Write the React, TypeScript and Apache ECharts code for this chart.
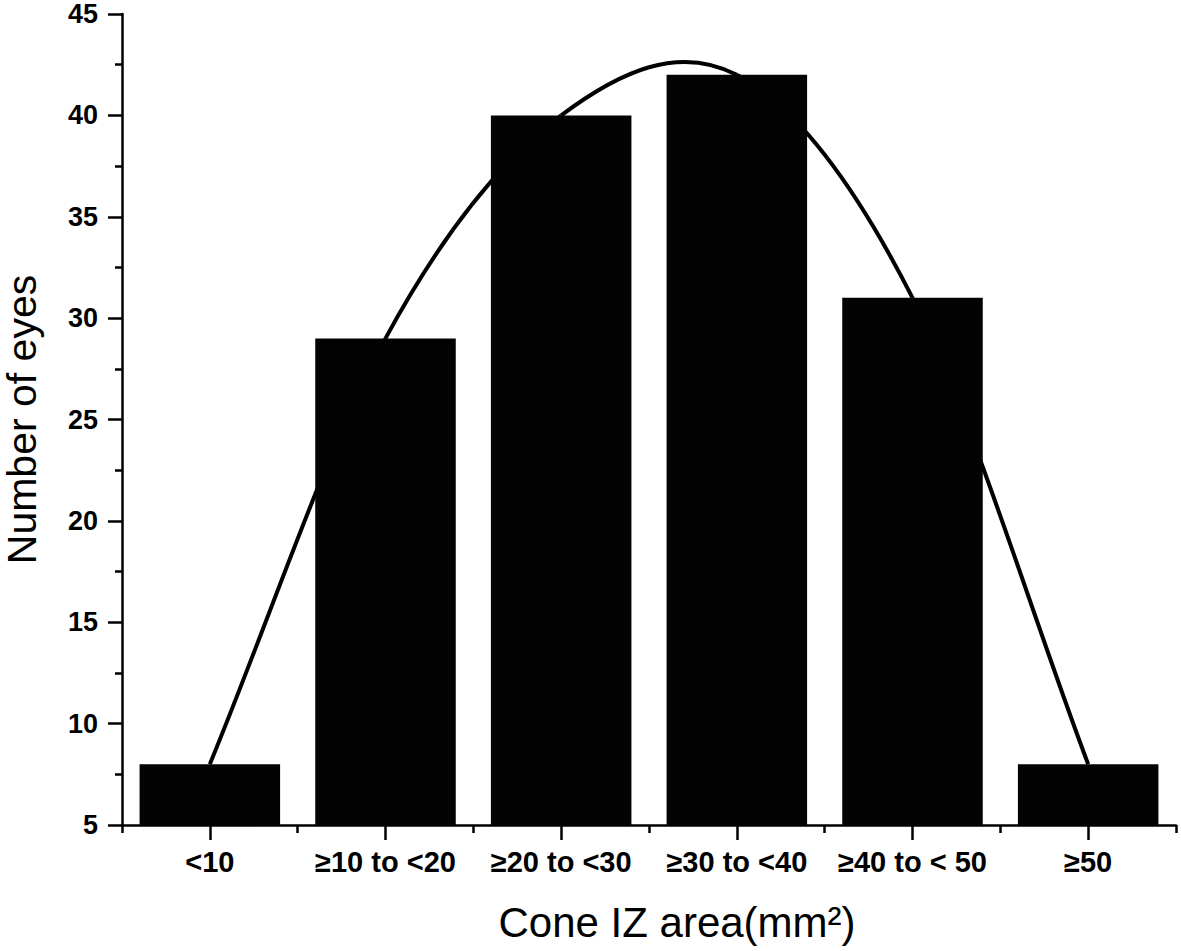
import React, { useEffect, useRef } from "react";
import * as echarts from "echarts";

const categories = ["<10", "≥10 to <20", "≥20 to <30", "≥30 to <40", "≥40 to < 50", "≥50"];
const eyeCounts = [8, 29, 40, 42, 31, 8];
const yTicks = { min: 5, max: 45, interval: 5 };
const yTitle = "Number of eyes";
const xTitle = "Cone IZ area(mm²)";

export default function App() {
  const ref = useRef<HTMLDivElement>(null);
  useEffect(() => {
    document.body.style.margin = "0";
    const chart = echarts.init(ref.current!, null, { renderer: "svg" });
    const font = "'Liberation Sans', Arial, sans-serif";
    const n = eyeCounts.length;
    chart.setOption({
      animation: false,
      backgroundColor: "#ffffff",
      grid: { left: 122, right: 5, top: 14, bottom: 126, containLabel: false, outerBoundsMode: "none" },
      xAxis: [
        {
          type: "category",
          data: categories,
          position: "bottom",
          axisLine: { show: true, lineStyle: { color: "#000", width: 2.5 } },
          axisTick: { show: true, alignWithLabel: true, length: 15, lineStyle: { color: "#000", width: 2.5 } },
          axisLabel: {
            color: "#000",
            fontFamily: font,
            fontWeight: "bold",
            fontSize: 29,
            margin: 22,
            interval: 0,
          },
          splitLine: { show: false },
          name: xTitle,
          nameLocation: "middle",
          nameGap: 76,
          nameTextStyle: {
            color: "#000",
            fontFamily: font,
            fontSize: 42,
            padding: [0, 0, 0, 56],
          },
        },
        {
          type: "category",
          data: categories,
          position: "bottom",
          axisLine: { show: false },
          axisTick: { show: true, interval: 0, length: 8, lineStyle: { color: "#000", width: 2.5 } },
          axisLabel: { show: false },
          splitLine: { show: false },
        },
      ],
      yAxis: {
        type: "value",
        min: yTicks.min,
        max: yTicks.max,
        interval: yTicks.interval,
        axisLine: { show: true, lineStyle: { color: "#000", width: 2.5 } },
        axisTick: { show: true, length: 14, lineStyle: { color: "#000", width: 2.5 } },
        minorTick: { show: true, splitNumber: 2, length: 7, lineStyle: { color: "#000", width: 2.5 } },
        axisLabel: {
          color: "#000",
          fontFamily: font,
          fontWeight: "bold",
          fontSize: 27,
          margin: 24,
        },
        splitLine: { show: false },
        name: yTitle,
        nameLocation: "middle",
        nameGap: 80,
        nameTextStyle: {
          color: "#000",
          fontFamily: font,
          fontSize: 41,
        },
      },
      series: [
        {
          type: "custom",
          z: 1,
          silent: true,
          data: eyeCounts.map((v, i) => [i, v]),
          renderItem: (params: any, api: any) => {
            const i = params.dataIndex;
            if (i >= n - 1) return null;
            const P = (k: number) => {
              const kk = Math.max(0, Math.min(n - 1, k));
              return api.coord([kk, eyeCounts[kk]]);
            };
            const p0 = P(i);
            const p1 = P(i + 1);
            const pm = i === 0 ? null : P(i - 1);
            const pp = i + 2 > n - 1 ? null : P(i + 2);
            const c1 = pm
              ? [p0[0] + (p1[0] - pm[0]) / 6, p0[1] + (p1[1] - pm[1]) / 6]
              : [p0[0] + (p1[0] - p0[0]) / 3, p0[1] + (p1[1] - p0[1]) / 3];
            const c2 = pp
              ? [p1[0] - (pp[0] - p0[0]) / 6, p1[1] - (pp[1] - p0[1]) / 6]
              : [p1[0] - (p1[0] - p0[0]) / 3, p1[1] - (p1[1] - p0[1]) / 3];
            return {
              type: "bezierCurve",
              shape: {
                x1: p0[0], y1: p0[1],
                cpx1: c1[0], cpy1: c1[1],
                cpx2: c2[0], cpy2: c2[1],
                x2: p1[0], y2: p1[1],
              },
              style: { stroke: "#000", lineWidth: 4, fill: null },
            };
          },
        },
        {
          type: "bar",
          data: eyeCounts,
          barWidth: "80%",
          z: 2,
          itemStyle: { color: "#030303" },
        },
      ],
    });
    return () => chart.dispose();
  }, []);
  return (
    <div
      ref={ref}
      style={{ position: "absolute", left: 0, top: 0, width: 1181, height: 951 }}
    />
  );
}
